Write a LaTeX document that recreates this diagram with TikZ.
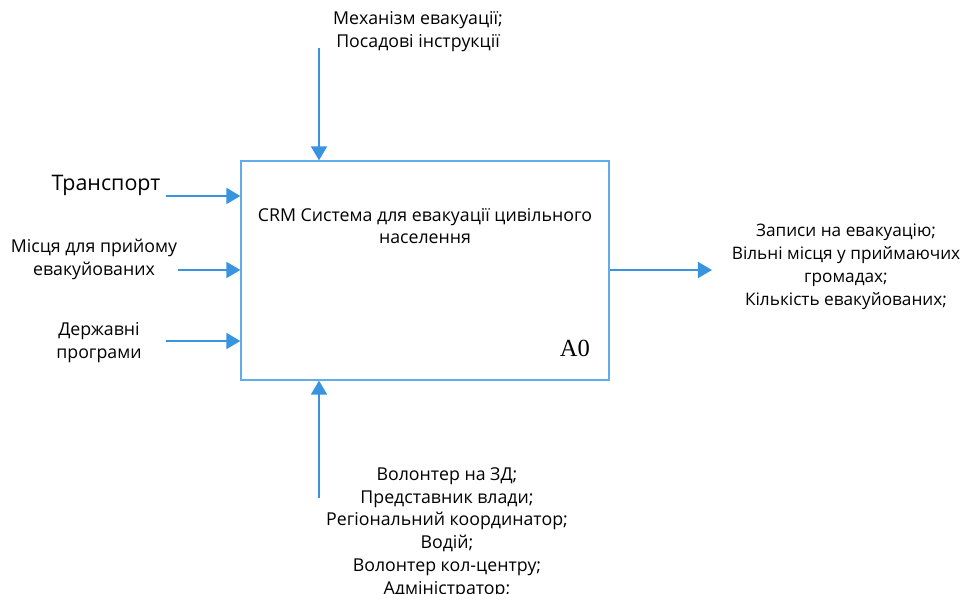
\documentclass[tikz,border=0pt]{standalone}
\usepackage{fontspec}
\setmainfont{Open Sans}
\newfontfamily\serifnum{Liberation Serif}
\usetikzlibrary{arrows.meta,positioning}

\definecolor{idefblue}{RGB}{56,148,222}
\definecolor{boxblue}{RGB}{98,172,232}

\begin{document}
\begin{tikzpicture}[x=0.02cm, y=-0.02cm,
    lbl/.style={align=center, inner sep=0pt, font=\fontsize{10.1}{13}\selectfont},
    flow/.style={idefblue, line width=1.4pt, -{Triangle[length=8pt, width=9pt]}}]
  \useasboundingbox (0,0) rectangle (969,594);

  % function box A0
  \node (box) [draw=boxblue, line width=0.7pt, minimum width=7.36cm, minimum height=4.38cm] at (425,270.5) {};
  \node (boxtxt) [lbl] at (425,226) {CRM Система для евакуації цивільного\\населення};
  \node (code) [font=\serifnum\fontsize{14}{14}\selectfont, inner sep=0pt] at (575,348) {A0};

  % controls from above
  \node (mech) [lbl] at (418,32) {Механізм евакуації;\\Посадові інструкції};
  \coordinate (mechIn) at (319,48);
  \draw[flow] (mechIn) -- (mechIn |- box.north);

  % inputs on the left
  \node (transp) [lbl, font=\fontsize{12.2}{14}\selectfont] at (106,185) {Транспорт};
  \node (places) [lbl] at (94,259.5) {Місця для прийому\\евакуйованих};
  \node (progs) [lbl] at (99,342.5) {Державні\\програми};
  \coordinate (transpIn) at (166,196);
  \coordinate (placesIn) at (178,270);
  \coordinate (progsIn) at (166,341);
  \foreach \c in {transpIn, placesIn, progsIn}
    \draw[flow] (\c) -- (\c -| box.west);

  % output on the right
  \coordinate (outEnd) at (712,270);
  \draw[flow] (outEnd -| box.east) -- (outEnd);
  \node (records) [lbl, font=\fontsize{9.8}{13}\selectfont] at (846,267) {Записи на евакуацію;\\Вільні місця у приймаючих\\громадах;\\Кількість евакуйованих;};

  % mechanisms from below
  \coordinate (roleIn) at (319,498);
  \draw[flow] (roleIn) -- (roleIn |- box.south);
  \node (roles) [lbl, anchor=north] at (447,467) {Волонтер на ЗД;\\Представник влади;\\Регіональний координатор;\\Водій;\\Волонтер кол-центру;\\Адміністратор;};
\end{tikzpicture}
\end{document}
